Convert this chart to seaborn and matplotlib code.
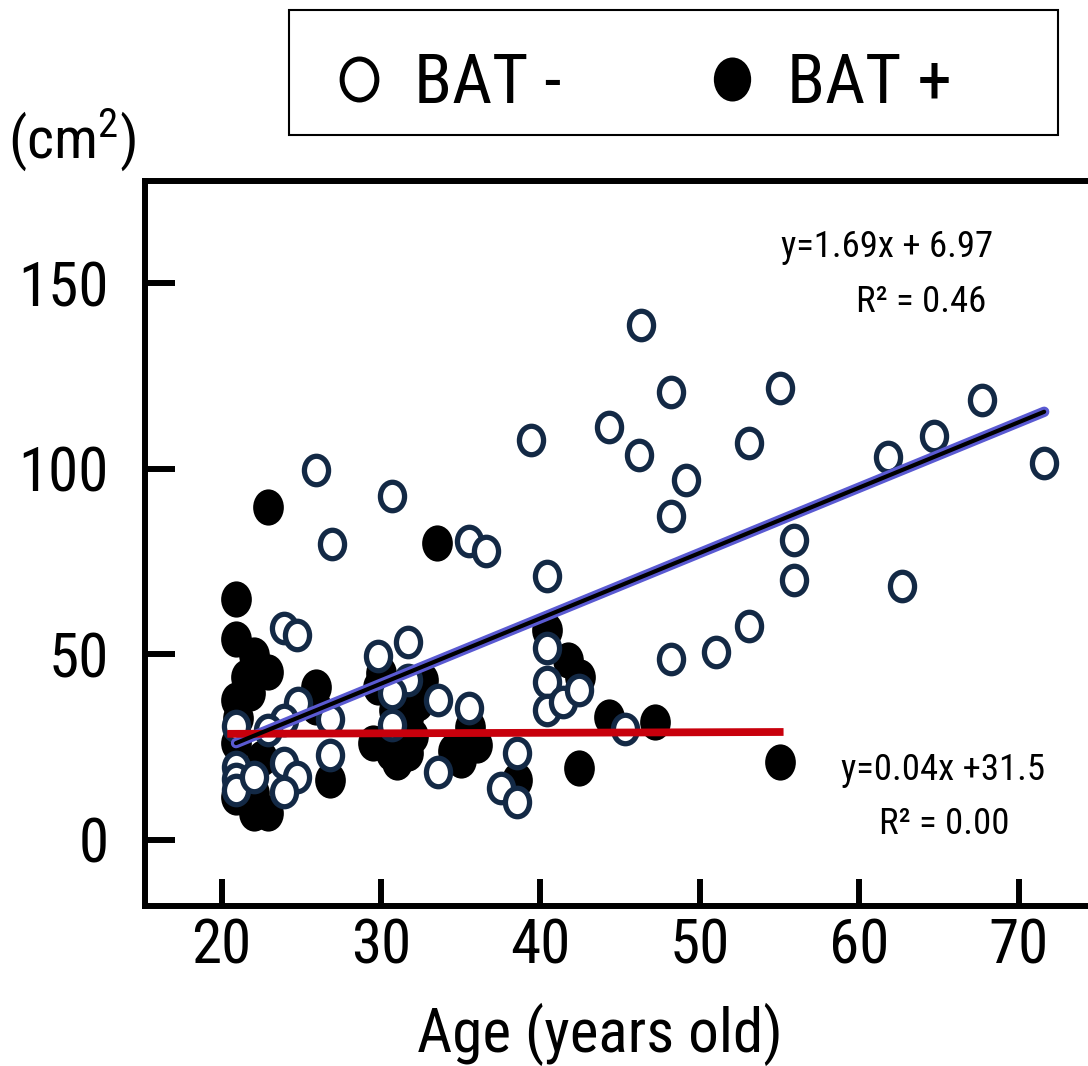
import numpy as np
import pandas as pd
import matplotlib
matplotlib.use("Agg")
import matplotlib.pyplot as plt
from matplotlib import font_manager
from matplotlib.lines import Line2D
from matplotlib.patches import Rectangle
from matplotlib.path import Path
import seaborn as sns

# BAT - (open circles): age (years) and area (cm2)
neg_age = [46.3, 48.2, 55.0, 44.3, 46.2, 39.4, 53.1, 49.1, 48.2, 61.8, 64.7, 67.7, 71.6,
           62.7, 55.9, 55.9, 53.1, 51.0, 48.2, 45.3, 40.4, 25.9, 30.7, 26.9, 35.5, 36.6,
           31.7, 31.7, 30.7, 30.7, 29.8, 33.6, 35.5, 33.6, 38.5, 37.5, 38.5, 40.4, 40.4,
           40.4, 41.4, 42.4,
           23.9, 24.7, 24.8, 26.8, 23.9, 22.9, 20.9, 20.9, 20.9, 20.9, 22.0, 23.9, 24.7,
           23.9, 26.8]
neg_area = [138.8, 120.8, 121.8, 111.3, 103.8, 107.8, 107.0, 97.0, 87.3, 103.2, 108.9, 118.6, 101.6,
            68.5, 80.9, 70.1, 57.7, 50.7, 48.8, 29.9, 71.2, 99.7, 92.7, 79.8, 80.6, 77.9,
            53.3, 43.1, 39.6, 30.9, 49.6, 37.7, 35.6, 18.3, 23.5, 14.0, 10.2, 51.8, 42.6,
            35.0, 37.2, 40.4,
            57.1, 55.3, 36.9, 32.6, 32.3, 29.6, 30.7, 19.7, 16.5, 13.5, 17.0, 20.8, 17.0,
            12.9, 22.9]

# BAT + (filled circles)
pos_age = [22.9, 33.5, 20.9, 55.0, 42.4, 47.2, 44.3, 40.4, 41.7, 42.5,
           20.9, 22.0, 22.9, 20.9, 21.8, 25.9, 25.9, 20.9, 20.9, 22.0, 22.9, 22.0, 26.8,
           21.0, 22.5, 21.5,
           29.8, 29.5, 30.6, 31.7, 31.7, 30.8, 32.0, 35.0, 35.6, 34.5, 38.5, 32.6, 36.0,
           30.0, 31.0, 32.3]
pos_area = [89.8, 80.1, 65.0, 21.0, 19.4, 31.8, 33.2, 56.6, 48.5, 43.9,
            54.2, 49.9, 45.3, 37.7, 39.6, 41.2, 35.8, 26.1, 11.6, 7.3, 7.3, 12.7, 16.2,
            33.0, 22.0, 44.0,
            41.2, 26.1, 23.5, 23.5, 33.0, 35.0, 28.0, 21.6, 30.5, 24.0, 16.2, 43.1, 25.5,
            45.0, 21.0, 37.0]

# regression lines, end points as drawn in the figure
neg_fit_age = [20.9, 71.6]
neg_fit_area = [26.1, 115.4]
pos_fit_age = [20.35, 55.25]
pos_fit_area = [28.6, 29.1]

neg_eq = ["y=1.69x + 6.97", "R\u00b2 = 0.46"]
pos_eq = ["y=0.04x +31.5", "R\u00b2 = 0.00"]

x_ticks = [20, 30, 40, 50, 60, 70]
y_ticks = [0, 50, 100, 150]


# the original has tall narrow lettering, use a narrow face when one exists
def pick_font():
    fonts = font_manager.fontManager.ttflist
    names = {f.name for f in fonts}
    for n in ["Liberation Sans Narrow", "Arial Narrow", "Roboto Condensed",
              "Open Sans Condensed", "Noto Sans Condensed", "Noto Sans Display Condensed"]:
        if n in names:
            return n, "normal", 1.0
    for n in ["Noto Sans", "Open Sans", "Roboto", "DejaVu Sans"]:
        for f in fonts:
            if f.name == n and str(f.stretch) in ("condensed", "semi-condensed", "75", "87"):
                return n, f.stretch, 1.0
    return "Liberation Sans", "normal", 0.86


font_name, font_stretch, fscale = pick_font()

sns.set_style("white")
plt.rcParams["font.family"] = [font_name, "Liberation Sans", "DejaVu Sans"]
plt.rcParams["font.stretch"] = font_stretch
plt.rcParams["mathtext.default"] = "regular"
for key in ["text.color", "axes.labelcolor", "xtick.color", "ytick.color"]:
    plt.rcParams[key] = "black"

df = pd.concat([
    pd.DataFrame({"age": neg_age, "area": neg_area, "group": "BAT -"}),
    pd.DataFrame({"age": pos_age, "area": pos_area, "group": "BAT +"}),
])

# the original picture is stretched a little vertically, so use tall ovals
circ = Path.unit_circle()
oval = Path(circ.vertices * np.array([1.0, 1.18]), circ.codes)

W, H = 1088, 1066
fig = plt.figure(figsize=(W / 100, H / 100), dpi=100)
ax = fig.add_axes([145 / W, 1 - 906 / H, 1 - 145 / W, (906 - 181) / H])

navy = "#132945"
sns.scatterplot(data=df[df.group == "BAT +"], x="age", y="area", ax=ax,
                marker=oval, s=680, color="black", edgecolor="black", linewidth=0, zorder=2)
sns.scatterplot(data=df[df.group == "BAT -"], x="age", y="area", ax=ax,
                marker=oval, s=420, color="white", edgecolor=navy, linewidth=3.8, zorder=3)

ax.plot(neg_fit_age, neg_fit_area, color="#5a5ad2", lw=7.5, solid_capstyle="round", zorder=4)
ax.plot(neg_fit_age, neg_fit_area, color="black", lw=3, solid_capstyle="round", zorder=5)
ax.plot(pos_fit_age, pos_fit_area, color="#c8000c", lw=5.6, solid_capstyle="butt", zorder=4)

big = 44 * fscale
ax.set_xlim(15.19, 74.35)
ax.set_ylim(-17.8, 177.6)
ax.set_xticks(x_ticks)
ax.set_yticks(y_ticks)
ax.set_xlabel("Age (years old)", fontsize=big, labelpad=20)
ax.xaxis.label.set_x((600 - 145) / (W - 145))
ax.set_ylabel("")

ax.spines["right"].set_visible(False)
for side in ["left", "bottom", "top"]:
    ax.spines[side].set_linewidth(4.3)
    ax.spines[side].set_color("black")
ax.tick_params(axis="x", direction="in", length=19.5, width=4.3, pad=8, labelsize=big,
               bottom=True, top=False)
ax.tick_params(axis="y", direction="in", length=21.5, width=4.3, pad=26, labelsize=big,
               left=True, right=False)

fig.text(72 / W, 1 - 158 / H, "(cm$^{2}$)", fontsize=42 * fscale, ha="center", va="baseline")

eq_size = 26.5 * fscale
fig.text(887 / W, 1 - 257 / H, neg_eq[0], fontsize=eq_size, ha="center", va="baseline")
fig.text(921 / W, 1 - 312 / H, neg_eq[1], fontsize=eq_size, ha="center", va="baseline")
fig.text(943 / W, 1 - 780 / H, pos_eq[0], fontsize=eq_size, ha="center", va="baseline")
fig.text(944 / W, 1 - 834 / H, pos_eq[1], fontsize=eq_size, ha="center", va="baseline")

# legend, drawn without its own frame; the box is added as a separate rectangle
handles = [
    Line2D([], [], ls="none", marker=oval, markersize=29.5, markerfacecolor="white",
           markeredgecolor="black", markeredgewidth=3.6),
    Line2D([], [], ls="none", marker=oval, markersize=31.7, markerfacecolor="black",
           markeredgecolor="black", markeredgewidth=0),
]
fig.legend(handles, ["BAT -", "BAT +"], loc="center left",
           bbox_to_anchor=(324 / W, 1 - 84 / H), ncol=2, frameon=False,
           fontsize=50 * fscale, borderpad=0, borderaxespad=0, handlelength=1.0,
           handletextpad=0.3, columnspacing=1.95)
fig.patches.append(Rectangle((289 / W, 1 - 135 / H), (1058 - 289) / W, 125 / H,
                             transform=fig.transFigure, fill=False, lw=1.5, ec="black"))

fig.savefig("out.png", dpi=100)
